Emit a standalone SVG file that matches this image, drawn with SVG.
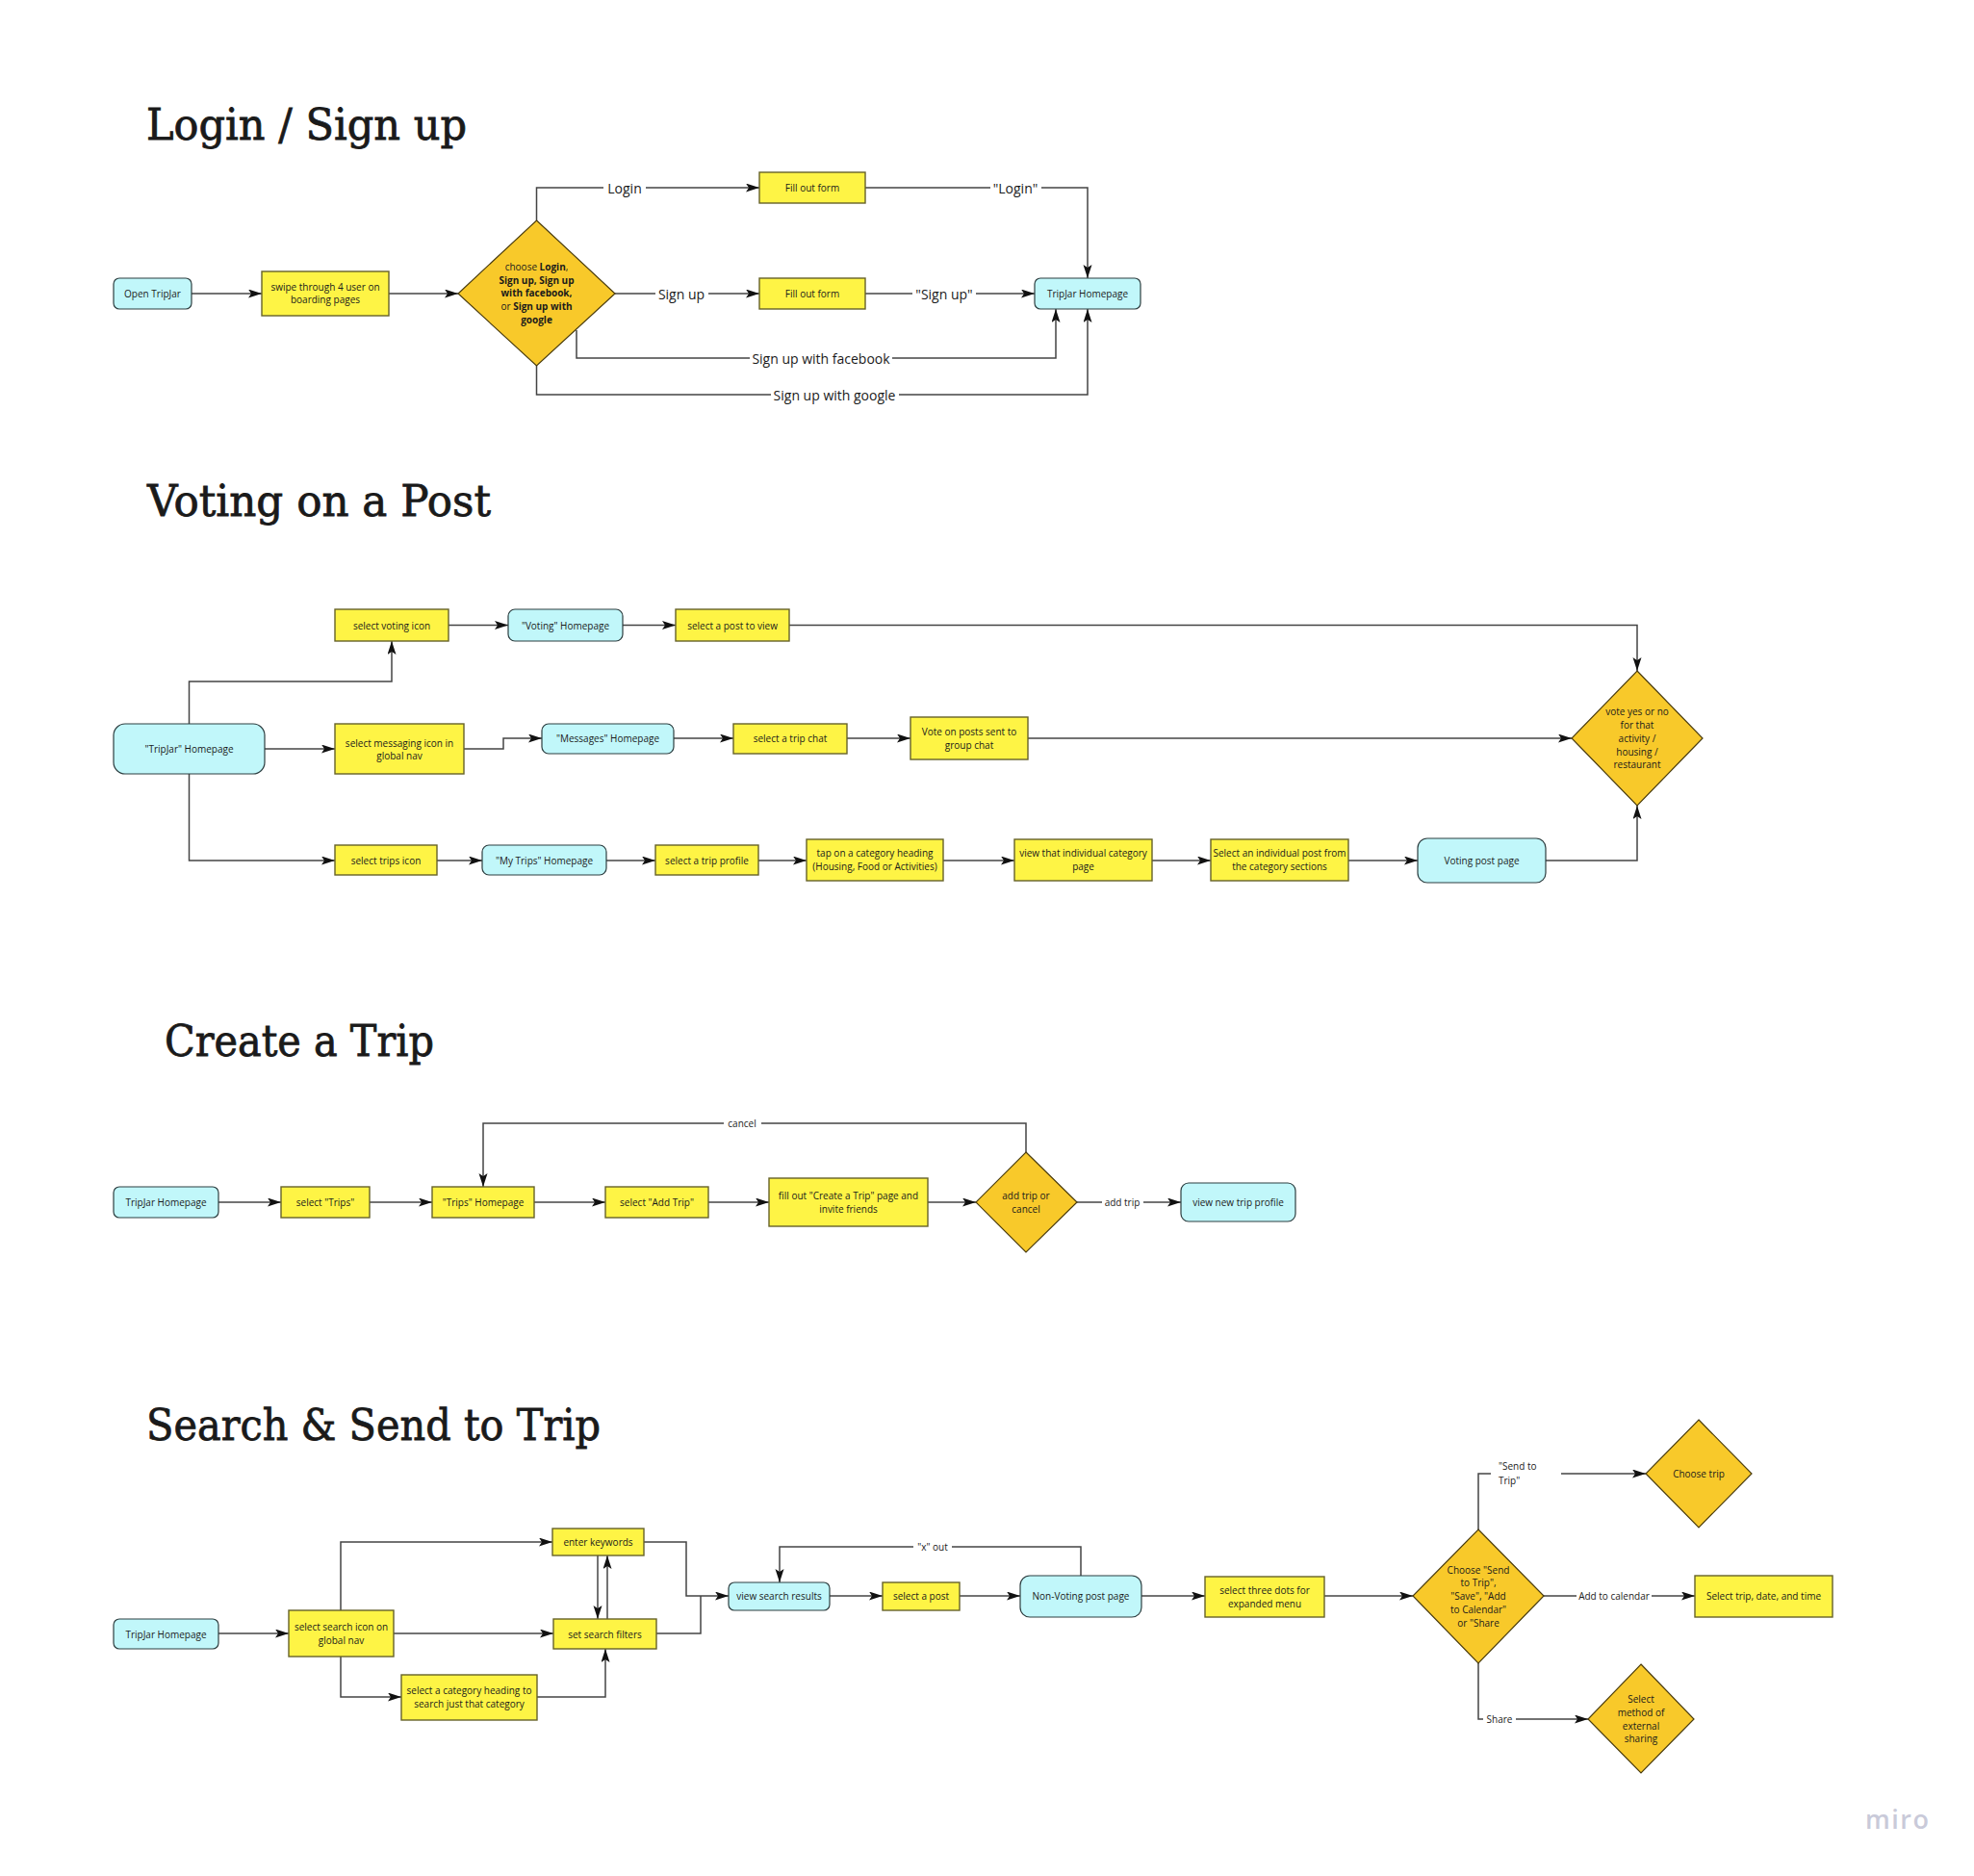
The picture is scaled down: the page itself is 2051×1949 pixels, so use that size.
<svg xmlns="http://www.w3.org/2000/svg" width="2051" height="1949" viewBox="0 0 2051 1949">
<style>
.y{fill:#fef445;stroke:#66622a;stroke-width:1.4}
.c{fill:#c1f7fa;stroke:#2d3e40;stroke-width:1.2}
.d{fill:#f8c92a;stroke:#4a3c0e;stroke-width:1.2}
.t{font-family:"Open Sans","DejaVu Sans",sans-serif;font-size:10px;fill:#1a1a1a;text-anchor:middle;dominant-baseline:central}
.b{font-weight:bold}
.h{font-family:"DejaVu Serif",serif;font-size:45px;fill:#1a1a1a;stroke:#1a1a1a;stroke-width:0.8}
.ln{fill:none;stroke:#444;stroke-width:1.5}
.ar{marker-end:url(#ah)}
.lb{font-family:"Open Sans","DejaVu Sans",sans-serif;fill:#1a1a1a;text-anchor:middle;dominant-baseline:central}
.l14{font-size:14px}
.l10{font-size:10px}
.bg{fill:#fff}
</style>
<defs>
<marker id="ah" markerUnits="userSpaceOnUse" markerWidth="15" markerHeight="10" refX="14" refY="4.5" orient="auto">
<path d="M0,0 L14,4.5 L0,9 L3,4.5 z" fill="#111"/>
</marker>
</defs>
<rect width="2051" height="1949" fill="#fff"/>

<g id="titles">
<text class="h" x="152" y="145" textLength="333" lengthAdjust="spacingAndGlyphs">Login / Sign up</text>
<text class="h" x="153" y="536" textLength="357" lengthAdjust="spacingAndGlyphs">Voting on a Post</text>
<text class="h" x="171" y="1097" textLength="280" lengthAdjust="spacingAndGlyphs">Create a Trip</text>
<text class="h" x="152" y="1496" textLength="472" lengthAdjust="spacingAndGlyphs">Search &amp; Send to Trip</text>
</g>

<g id="connectors">
<!-- Login -->
<path class="ln ar" d="M199,305 H272"/>
<path class="ln ar" d="M404,305 H476"/>
<path class="ln ar" d="M557.5,229 V195 H789"/>
<path class="ln ar" d="M639,305 H789"/>
<path class="ln ar" d="M899,195 H1130 V289"/>
<path class="ln ar" d="M899,305 H1075"/>
<path class="ln ar" d="M599,343 V372 H1097 V321"/>
<path class="ln ar" d="M557.5,380 V410 H1130 V321"/>
<rect class="bg" x="627" y="186" width="44" height="18"/><text class="lb l14" x="649" y="195">Login</text>
<rect class="bg" x="681" y="296" width="55" height="18"/><text class="lb l14" x="708" y="305">Sign up</text>
<rect class="bg" x="1029" y="186" width="53" height="18"/><text class="lb l14" x="1055" y="195">"Login"</text>
<rect class="bg" x="948" y="296" width="66" height="18"/><text class="lb l14" x="981" y="305">"Sign up"</text>
<rect class="bg" x="779" y="363" width="148" height="18"/><text class="lb l14" x="853" y="372">Sign up with facebook</text>
<rect class="bg" x="801" y="401" width="133" height="18"/><text class="lb l14" x="867" y="410">Sign up with google</text>
<!-- Voting -->
<path class="ln ar" d="M196.5,752 V708 H407 V666"/>
<path class="ln ar" d="M466,649.5 H528"/>
<path class="ln ar" d="M647,649.5 H702"/>
<path class="ln ar" d="M820,649.5 H1701 V697"/>
<path class="ln ar" d="M275,778 H348"/>
<path class="ln ar" d="M482,778 H523 V767 H563"/>
<path class="ln ar" d="M700,767 H762"/>
<path class="ln ar" d="M880,767 H946"/>
<path class="ln ar" d="M1068,767 H1633"/>
<path class="ln ar" d="M196.5,804 V894 H348"/>
<path class="ln ar" d="M454,894 H501"/>
<path class="ln ar" d="M630,894 H681"/>
<path class="ln ar" d="M788,894 H838"/>
<path class="ln ar" d="M980,894 H1054"/>
<path class="ln ar" d="M1197,894 H1258"/>
<path class="ln ar" d="M1401,894 H1473"/>
<path class="ln ar" d="M1606,894 H1701 V837"/>
<!-- Create a Trip -->
<path class="ln ar" d="M227,1249 H292"/>
<path class="ln ar" d="M384,1249 H449"/>
<path class="ln ar" d="M555,1249 H629"/>
<path class="ln ar" d="M736,1249 H799"/>
<path class="ln ar" d="M964,1249 H1014"/>
<path class="ln ar" d="M1119,1249 H1227"/>
<path class="ln ar" d="M1066,1197 V1167 H502 V1233"/>
<rect class="bg" x="752" y="1160" width="39" height="14"/><text class="lb l10" x="771" y="1167">cancel</text>
<rect class="bg" x="1145" y="1242" width="43" height="14"/><text class="lb l10" x="1166" y="1249">add trip</text>
<!-- Search -->
<path class="ln ar" d="M227,1697 H300"/>
<path class="ln ar" d="M354,1673 V1602 H574"/>
<path class="ln ar" d="M409,1697 H575"/>
<path class="ln ar" d="M354,1721 V1763 H417"/>
<path class="ln ar" d="M558,1763 H629 V1713"/>
<path class="ln ar" d="M621,1616 V1682"/>
<path class="ln ar" d="M631,1682 V1616"/>
<path class="ln ar" d="M669,1602 H713 V1658 H757"/>
<path class="ln" d="M682,1697 H728 V1658"/>
<path class="ln ar" d="M862,1658 H917"/>
<path class="ln ar" d="M997,1658 H1060"/>
<path class="ln ar" d="M1123,1637 V1607 H810 V1644"/>
<path class="ln ar" d="M1186,1658 H1252"/>
<path class="ln ar" d="M1376,1658 H1468"/>
<path class="ln ar" d="M1536,1589 V1531 H1710"/>
<path class="ln ar" d="M1604,1658 H1761"/>
<path class="ln ar" d="M1536,1728 V1786 H1650"/>
<rect class="bg" x="949" y="1600" width="40" height="14"/><text class="lb l10" x="969" y="1607">"x" out</text>
<rect class="bg" x="1638" y="1651" width="78" height="14"/><text class="lb l10" x="1677" y="1658">Add to calendar</text>
<rect class="bg" x="1541" y="1779" width="34" height="14"/><text class="lb l10" x="1558" y="1786">Share</text>
<rect class="bg" x="1549" y="1514" width="73" height="32"/>
<text class="lb l10" x="1557" y="1523" style="text-anchor:start">"Send to</text>
<text class="lb l10" x="1557" y="1538" style="text-anchor:start">Trip"</text>
</g>

<!-- Login nodes -->
<g id="n-open"><rect class="c" x="118" y="289" width="81" height="32" rx="6"/><text class="t" x="158.5" y="305">Open TripJar</text></g>
<g id="n-swipe"><rect class="y" x="272" y="282" width="132" height="46"/><text class="t" x="338" y="298">swipe through 4 user on</text><text class="t" x="338" y="311">boarding pages</text></g>
<g id="n-choose"><path class="d" d="M557.5,229 L639,305 L557.5,380 L476,305 Z"/>
<text class="t" x="557.5" y="277">choose <tspan class="b">Login</tspan>,</text>
<text class="t b" x="557.5" y="291">Sign up, Sign up</text>
<text class="t b" x="557.5" y="304">with facebook,</text>
<text class="t" x="557.5" y="318">or <tspan class="b">Sign up with</tspan></text>
<text class="t b" x="557.5" y="332">google</text></g>
<g id="n-form1"><rect class="y" x="789" y="179" width="110" height="32"/><text class="t" x="844" y="195">Fill out form</text></g>
<g id="n-form2"><rect class="y" x="789" y="289" width="110" height="32"/><text class="t" x="844" y="305">Fill out form</text></g>
<g id="n-home1"><rect class="c" x="1075" y="289" width="110" height="32" rx="6"/><text class="t" x="1130" y="305">TripJar Homepage</text></g>

<!-- Voting nodes -->
<g id="n-tj2"><rect class="c" x="118" y="752" width="157" height="52" rx="12"/><text class="t" x="196.5" y="778">"TripJar" Homepage</text></g>
<g id="n-vote-icon"><rect class="y" x="348" y="633" width="118" height="33"/><text class="t" x="407" y="649.5">select voting icon</text></g>
<g id="n-voting-home"><rect class="c" x="528" y="633" width="119" height="33" rx="7"/><text class="t" x="587.5" y="649.5">"Voting" Homepage</text></g>
<g id="n-select-post"><rect class="y" x="702" y="633" width="118" height="33"/><text class="t" x="761" y="649.5">select a post to view</text></g>
<g id="n-msg-icon"><rect class="y" x="348" y="752" width="134" height="52"/><text class="t" x="415" y="771.5">select messaging icon in</text><text class="t" x="415" y="784.5">global nav</text></g>
<g id="n-msg-home"><rect class="c" x="563" y="752" width="137" height="31" rx="7"/><text class="t" x="631.5" y="767">"Messages" Homepage</text></g>
<g id="n-trip-chat"><rect class="y" x="762" y="752" width="118" height="31"/><text class="t" x="821" y="767">select a trip chat</text></g>
<g id="n-vote-posts"><rect class="y" x="946" y="745" width="122" height="44"/><text class="t" x="1007" y="760">Vote on posts sent to</text><text class="t" x="1007" y="774">group chat</text></g>
<g id="n-trips-icon"><rect class="y" x="348" y="878" width="106" height="31"/><text class="t" x="401" y="893.5">select trips icon</text></g>
<g id="n-mytrips"><rect class="c" x="501" y="878" width="129" height="31" rx="7"/><text class="t" x="565.5" y="893.5">"My Trips" Homepage</text></g>
<g id="n-trip-profile"><rect class="y" x="681" y="878" width="107" height="31"/><text class="t" x="734.5" y="893.5">select a trip profile</text></g>
<g id="n-tap-cat"><rect class="y" x="838" y="872" width="142" height="43"/><text class="t" x="909" y="886">tap on a category heading</text><text class="t" x="909" y="900">(Housing, Food or Activities)</text></g>
<g id="n-view-cat"><rect class="y" x="1054" y="872" width="143" height="43"/><text class="t" x="1125.5" y="886">view that individual category</text><text class="t" x="1125.5" y="900">page</text></g>
<g id="n-select-ind"><rect class="y" x="1258" y="872" width="143" height="43"/><text class="t" x="1329.5" y="886">Select an individual post from</text><text class="t" x="1329.5" y="900">the category sections</text></g>
<g id="n-voting-post"><rect class="c" x="1473" y="871" width="133" height="46" rx="10"/><text class="t" x="1539.5" y="894">Voting post page</text></g>
<g id="n-vote-dec"><path class="d" d="M1701,697 L1769,767 L1701,837 L1633,767 Z"/>
<text class="t" x="1701" y="739">vote yes or no</text>
<text class="t" x="1701" y="753">for that</text>
<text class="t" x="1701" y="767">activity /</text>
<text class="t" x="1701" y="781">housing /</text>
<text class="t" x="1701" y="794">restaurant</text></g>

<!-- Create a Trip nodes -->
<g id="n-tj3"><rect class="c" x="118" y="1233" width="109" height="32" rx="6"/><text class="t" x="172.5" y="1249">TripJar Homepage</text></g>
<g id="n-sel-trips"><rect class="y" x="292" y="1233" width="92" height="32"/><text class="t" x="338" y="1249">select "Trips"</text></g>
<g id="n-trips-home"><rect class="y" x="449" y="1233" width="106" height="32"/><text class="t" x="502" y="1249">"Trips" Homepage</text></g>
<g id="n-add-trip"><rect class="y" x="629" y="1233" width="107" height="32"/><text class="t" x="682.5" y="1249">select "Add Trip"</text></g>
<g id="n-fill-create"><rect class="y" x="799" y="1224" width="165" height="50"/><text class="t" x="881.5" y="1242">fill out "Create a Trip" page and</text><text class="t" x="881.5" y="1256">invite friends</text></g>
<g id="n-add-or-cancel"><path class="d" d="M1066,1197 L1119,1249 L1066,1301 L1014,1249 Z"/><text class="t" x="1066" y="1242">add trip or</text><text class="t" x="1066" y="1256">cancel</text></g>
<g id="n-view-new"><rect class="c" x="1227" y="1229" width="119" height="40" rx="8"/><text class="t" x="1286.5" y="1249">view new trip profile</text></g>

<!-- Search nodes -->
<g id="n-tj4"><rect class="c" x="118" y="1682" width="109" height="31" rx="6"/><text class="t" x="172.5" y="1697.5">TripJar Homepage</text></g>
<g id="n-search-icon"><rect class="y" x="300" y="1673" width="109" height="48"/><text class="t" x="354.5" y="1690">select search icon on</text><text class="t" x="354.5" y="1704">global nav</text></g>
<g id="n-keywords"><rect class="y" x="574" y="1588" width="95" height="28"/><text class="t" x="621.5" y="1602">enter keywords</text></g>
<g id="n-filters"><rect class="y" x="575" y="1682" width="107" height="31"/><text class="t" x="628.5" y="1697.5">set search filters</text></g>
<g id="n-category"><rect class="y" x="417" y="1740" width="141" height="47"/><text class="t" x="487.5" y="1756">select a category heading to</text><text class="t" x="487.5" y="1770">search just that category</text></g>
<g id="n-results"><rect class="c" x="757" y="1644" width="105" height="29" rx="6"/><text class="t" x="809.5" y="1658">view search results</text></g>
<g id="n-select-post4"><rect class="y" x="917" y="1644" width="80" height="29"/><text class="t" x="957" y="1658">select a post</text></g>
<g id="n-nonvoting"><rect class="c" x="1060" y="1637" width="126" height="43" rx="10"/><text class="t" x="1123" y="1658">Non-Voting post page</text></g>
<g id="n-three-dots"><rect class="y" x="1252" y="1638" width="124" height="42"/><text class="t" x="1314" y="1652">select three dots for</text><text class="t" x="1314" y="1666">expanded menu</text></g>
<g id="n-choose4"><path class="d" d="M1536,1589 L1604,1658 L1536,1728 L1468,1658 Z"/>
<text class="t" x="1536" y="1631">Choose "Send</text>
<text class="t" x="1536" y="1644">to Trip",</text>
<text class="t" x="1536" y="1658">"Save", "Add</text>
<text class="t" x="1536" y="1672">to Calendar"</text>
<text class="t" x="1536" y="1686">or "Share</text></g>
<g id="n-choose-trip"><path class="d" d="M1765,1475 L1820,1531 L1765,1587 L1710,1531 Z"/><text class="t" x="1765" y="1531">Choose trip</text></g>
<g id="n-select-trip-date"><rect class="y" x="1761" y="1637" width="143" height="43"/><text class="t" x="1832.5" y="1658">Select trip, date, and time</text></g>
<g id="n-select-method"><path class="d" d="M1705,1729 L1760,1786 L1705,1842 L1650,1786 Z"/>
<text class="t" x="1705" y="1765">Select</text>
<text class="t" x="1705" y="1779">method of</text>
<text class="t" x="1705" y="1793">external</text>
<text class="t" x="1705" y="1806">sharing</text></g>

<text x="1938" y="1900" style="font-family:'Open Sans','DejaVu Sans',sans-serif;font-size:27px;font-weight:600;fill:#c9cad9;letter-spacing:1.5px">miro</text>
</svg>
